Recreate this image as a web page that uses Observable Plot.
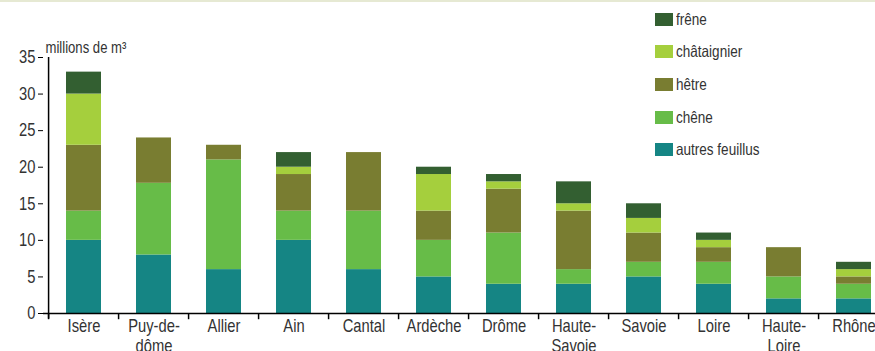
<!DOCTYPE html>
<html>
<head>
<meta charset="utf-8">
<script src="https://cdn.jsdelivr.net/npm/d3@7"></script>
<script src="https://cdn.jsdelivr.net/npm/@observablehq/plot@0.6"></script>
<style>
  html, body { margin: 0; padding: 0; background: #fff; overflow: hidden; }
  #wrap { position: relative; width: 875px; height: 351px; overflow: hidden; }
  #topline { position: absolute; left: 0; top: 0; width: 875px; height: 2px; background: #e6e9d3; }
  #legend { position: absolute; left: 655px; top: 3px; font-family: "Liberation Sans", Arial, sans-serif; font-size: 16.5px; color: #333; }
  #legend .row { display: flex; align-items: center; height: 32.6px; }
  #legend .sw { width: 18px; height: 13px; margin-right: 3px; flex: none; }
  #legend .lb { display: inline-block; transform: scaleX(0.82); transform-origin: left center; white-space: nowrap; }
  svg { font-family: "Liberation Sans", Arial, sans-serif; }
</style>
</head>
<body>
<div id="wrap">
  <div id="chart"></div>
  <div id="topline"></div>
  <div id="legend"></div>
</div>
<script>
const categories = ["Isère", "Puy-de-dôme", "Allier", "Ain", "Cantal", "Ardèche", "Drôme", "Haute-Savoie", "Savoie", "Loire", "Haute-Loire", "Rhône"];
const labels = ["Isère", "Puy-de-\ndôme", "Allier", "Ain", "Cantal", "Ardèche", "Drôme", "Haute-\nSavoie", "Savoie", "Loire", "Haute-\nLoire", "Rhône"];
const species = ["autres feuillus", "chêne", "hêtre", "châtaignier", "frêne"];
const autresFeuillus = [10, 8, 6, 10, 6, 5, 4, 4, 5, 4, 2, 2];
const chene          = [4, 9.8, 15, 4, 8, 5, 7, 2, 2, 3, 3, 2];
const hetre          = [9, 6.2, 2, 5, 8, 4, 6, 8, 4, 2, 4, 1];
const chataignier    = [7, 0, 0, 1, 0, 5, 1, 1, 2, 1, 0, 1];
const frene          = [3, 0, 0, 2, 0, 1, 1, 3, 2, 1, 0, 1];
const colors = ["#158584", "#67bc48", "#797d31", "#a5cf3d", "#335f31"];
const yTicks = [0, 5, 10, 15, 20, 25, 30, 35];

const seriesValues = [autresFeuillus, chene, hetre, chataignier, frene];
const data = [];
species.forEach((s, si) => categories.forEach((c, ci) => {
  data.push({region: c, species: s, value: seriesValues[si][ci]});
}));
const labelOf = new Map(categories.map((c, i) => [c, labels[i]]));

const W = 875, H = 351;
const step = (893 - 43) / 12;

const chart = Plot.plot({
  width: W,
  height: H,
  marginLeft: 43,
  marginRight: 0,
  marginTop: 57,
  marginBottom: 38,
  style: {fontFamily: '"Liberation Sans", Arial, sans-serif', overflow: "hidden"},
  x: {domain: categories, range: [43, 893], paddingInner: 0.5, paddingOuter: 0.25, align: 0.5},
  y: {domain: [0, 35]},
  color: {domain: species, range: colors},
  marks: [
    Plot.barY(data, {x: "region", y: "value", fill: "species", order: species}),
    Plot.ruleY([0], {stroke: "#000", strokeWidth: 1.5}),
    Plot.ruleX(categories.slice(0, 1), {x: d => d, dx: -step / 2, y1: -0.75, y2: 35, stroke: "#000", strokeWidth: 1.5}),
    Plot.ruleX(categories, {x: d => d, dx: -step / 2, y1: 0, y2: -0.85, stroke: "#000", strokeWidth: 1.5}),
    Plot.axisY(yTicks, {tickSize: 5, tickPadding: 3, fontSize: 18, color: "#333", stroke: "#000", label: null}),
    Plot.axisX({tickSize: 0, tickPadding: 4, fontSize: 18, color: "#333", label: null, lineHeight: 1.12, tickFormat: d => labelOf.get(d)}),
    Plot.text(["millions de m³"], {frameAnchor: "top-left", dx: 2, dy: -5, lineAnchor: "bottom", textAnchor: "start", fontSize: 16, fill: "#333"})
  ]
});
document.getElementById("chart").appendChild(chart);

// emulate the condensed typeface of the original by narrowing every text around its anchor
chart.querySelectorAll("text").forEach(el => {
  const t = el.getAttribute("transform");
  if (t) {
    el.setAttribute("transform", t + " scale(0.82,1)");
  } else {
    const x = el.getAttribute("x") || 0, y = el.getAttribute("y") || 0;
    el.setAttribute("transform", `translate(${x},${y}) scale(0.82,1)`);
    el.setAttribute("x", 0);
    el.setAttribute("y", 0);
  }
});

const legend = document.getElementById("legend");
species.slice().reverse().forEach((s) => {
  const i = species.indexOf(s);
  const row = document.createElement("div");
  row.className = "row";
  row.innerHTML = `<div class="sw" style="background:${colors[i]}"></div><span class="lb">${s}</span>`;
  legend.appendChild(row);
});
</script>
</body>
</html>
